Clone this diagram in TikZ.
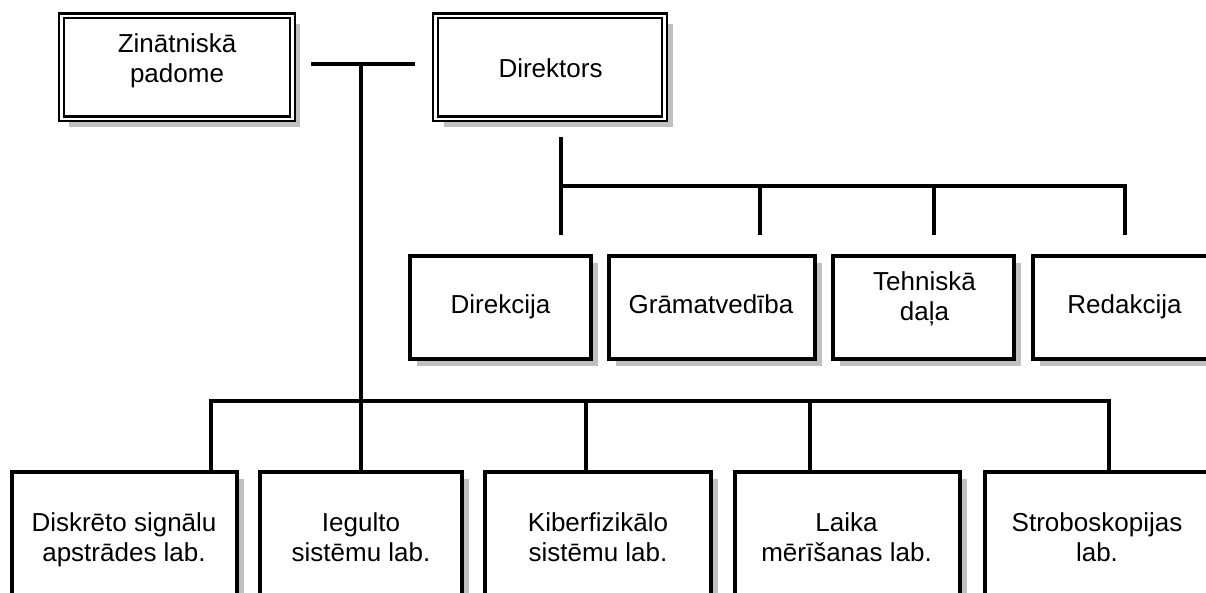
\documentclass[tikz,border=0pt]{standalone}
\usepackage{fontspec}
\setmainfont{Liberation Sans}
\usetikzlibrary{shadows}
\definecolor{shadowgrey}{RGB}{192,192,192}
\begin{document}
\begin{tikzpicture}[x=1pt,y=-1pt,
  box/.style={rectangle, draw=black, line width=4pt, fill=white, inner sep=0pt,
    general shadow={fill=shadowgrey, shadow xshift=7pt, shadow yshift=-7pt}},
  dbox/.style={rectangle, draw=black, double=white, double distance=2.5pt, line width=2.2pt,
    fill=white, inner sep=0pt,
    general shadow={fill=shadowgrey, shadow xshift=8pt, shadow yshift=-8pt}},
  lbl/.style={inner sep=0pt, align=center, font=\fontsize{26}{30}\selectfont},
  wire/.style={draw=black, line width=3.6pt, line join=miter}]
\useasboundingbox (0,0) rectangle (1206,592);
\clip (0,0) rectangle (1206,592);
\fill[white] (0,0) rectangle (1206,592);

% top double boxes
\node[dbox, minimum width=231pt, minimum height=103pt] (zinB) at (176.75,67.25) {};
\node[dbox, minimum width=229pt, minimum height=103pt] (dirB) at (550,67.25) {};
\node[lbl, anchor=north] (zinT) at (177,33) {Zinātniskā\\padome};
\node[lbl, anchor=base] (dirT) at (550.5,77) {Direktors};

% director's units
\node[box, minimum width=181pt, minimum height=103pt] (direkB) at (500.5,307.5) {};
\node[box, minimum width=206pt, minimum height=103pt] (gramB) at (712,307.5) {};
\node[box, minimum width=181pt, minimum height=103pt] (tehnB) at (923.5,307.5) {};
\node[box, minimum width=183pt, minimum height=103pt] (redB) at (1124.5,307.5) {};
\node[lbl, anchor=base] (direkT) at (500.5,313) {Direkcija};
\node[lbl, anchor=base] (gramT) at (711,313) {Grāmatvedība};
\node[lbl, anchor=north] (tehnT) at (924.5,271) {Tehniskā\\daļa};
\node[lbl, anchor=base] (redT) at (1124.5,313) {Redakcija};

% laboratories
\node[box, minimum width=225pt, minimum height=168pt] (diskB) at (124.5,556) {};
\node[box, minimum width=202pt, minimum height=168pt] (iegB) at (361,556) {};
\node[box, minimum width=226pt, minimum height=168pt] (kibB) at (598,556) {};
\node[box, minimum width=225pt, minimum height=168pt] (laikB) at (847.5,556) {};
\node[box, minimum width=225pt, minimum height=168pt] (strB) at (1097.5,556) {};
\node[lbl, anchor=north] (diskT) at (124,512) {Diskrēto signālu\\apstrādes lab.};
\node[lbl, anchor=north] (iegT) at (361,512) {Iegulto\\sistēmu lab.};
\node[lbl, anchor=north] (kibT) at (598,512) {Kiberfizikālo\\sistēmu lab.};
\node[lbl, anchor=north] (laikT) at (846.5,512) {Laika\\mērīšanas lab.};
\node[lbl, anchor=north] (strT) at (1097,512) {Stroboskopijas\\lab.};

% connector coordinates
\coordinate (tL) at (311,64);
\coordinate (tR) at (415,64);
\coordinate (tM) at (361,64);
\coordinate (busL) at (211,401);
\coordinate (busR) at (1109,401);
\coordinate (bus3) at (586,401);
\coordinate (bus4) at (810,401);
\coordinate (dTop) at (561,137);
\coordinate (dBusL) at (561,186);
\coordinate (dBusR) at (1125,186);
\coordinate (dB2) at (760,186);
\coordinate (dB3) at (934,186);
\coordinate (e1) at (561,235);
\coordinate (e2) at (760,235);
\coordinate (e3) at (934,235);
\coordinate (e4) at (1125,235);

% connectors
\draw[wire] (tL) -- (tR);
\draw[wire] (tM) -- (iegB.north -| tM);
\draw[wire] (diskB.north -| busL) -- (busL) -- (busR) -- (strB.north -| busR);
\draw[wire] (bus3) -- (kibB.north -| bus3);
\draw[wire] (bus4) -- (laikB.north -| bus4);
\draw[wire] (dTop) -- (e1);
\draw[wire] (dBusL) -- (dBusR) -- (e4);
\draw[wire] (dB2) -- (e2);
\draw[wire] (dB3) -- (e3);
\end{tikzpicture}
\end{document}
